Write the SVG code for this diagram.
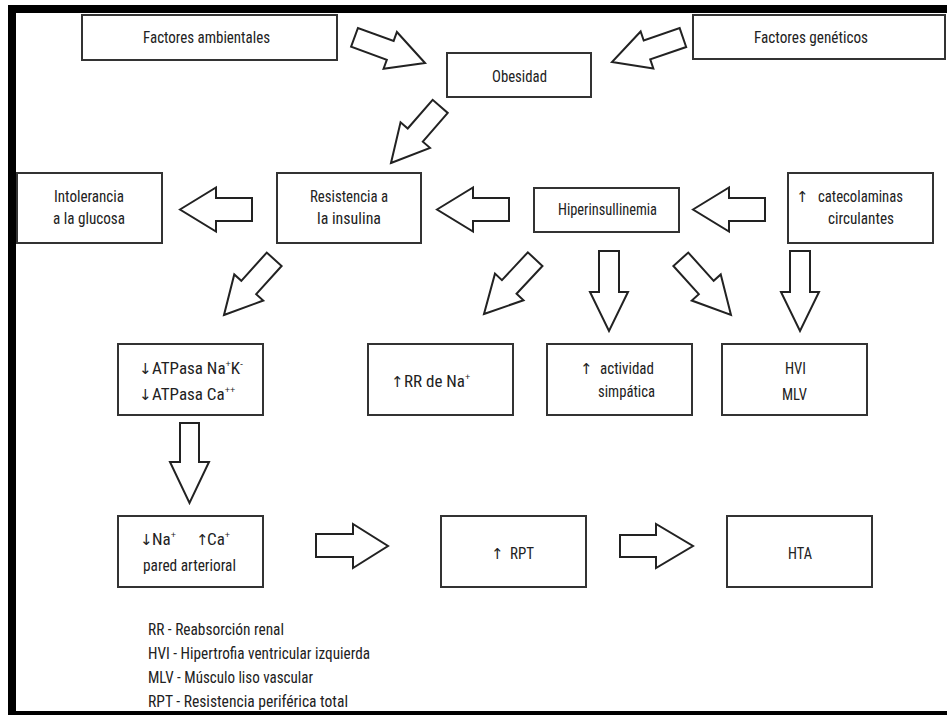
<svg xmlns="http://www.w3.org/2000/svg" width="947" height="715" viewBox="0 0 947 715">
<defs>
<style>
.box{fill:#fff;stroke:#333;stroke-width:2}
.arr{fill:#fff;stroke:#222;stroke-width:2;stroke-linejoin:miter}
.t{font-family:"Liberation Sans Narrow","Roboto Condensed","DejaVu Sans Condensed","Liberation Sans",sans-serif;font-stretch:condensed;font-size:17px;fill:#222}
.s{font-family:"DejaVu Sans","Liberation Sans",sans-serif;font-size:15px;fill:#222}
.sup{font-family:"Liberation Sans",sans-serif;font-size:9px}
</style>
<polygon id="diag" points="0,0 -37,-19.5 -37,-10 -75,-10 -75,10 -37,10 -37,19.5"/>
</defs>
<rect x="0" y="0" width="947" height="715" fill="#fff"/>
<g id="border" fill="#000">
<rect x="8" y="5" width="939" height="8"/>
<rect x="8" y="5" width="8" height="710"/>
<rect x="8" y="711" width="939" height="4"/>
</g>
<g id="connectors">
<use href="#diag" class="arr" transform="translate(425,63) rotate(20)"/>
<use href="#diag" class="arr" transform="translate(612,62) rotate(161)"/>
<use href="#diag" class="arr" transform="translate(391,163) rotate(131)"/>
<use href="#diag" class="arr" transform="translate(224,315) rotate(132)"/>
<use href="#diag" class="arr" transform="translate(484,314) rotate(133)"/>
<use href="#diag" class="arr" transform="translate(731,315) rotate(48)"/>
<polygon class="arr" points="180,209.5 216,187.5 216,198 252,198 252,221 216,221 216,231.5"/>
<polygon class="arr" points="437,209.5 473,187.5 473,198 509,198 509,221 473,221 473,231.5"/>
<polygon class="arr" points="693,209.5 729,187.5 729,198 765,198 765,221 729,221 729,231.5"/>
<polygon class="arr" points="316,534 353,534 353,524 388,546 353,568 353,557 316,557"/>
<polygon class="arr" points="620,535 656,535 656,524 693,546 656,568 656,557 620,557"/>
<polygon class="arr" points="180,423 199,423 199,462 209,462 189.5,503 170,462 180,462"/>
<polygon class="arr" points="599,251 619,251 619,292 628,292 609,331 590,292 599,292"/>
<polygon class="arr" points="790,251 810,251 810,292 819,292 800,331 781,292 790,292"/>
</g>
<g id="n-ambientales"><rect class="box" x="82" y="15" width="255" height="45"/><text class="t" x="143" y="43" textLength="127" lengthAdjust="spacingAndGlyphs">Factores ambientales</text></g>
<g id="n-obesidad"><rect class="box" x="447" y="53" width="144" height="44"/><text class="t" x="492" y="82" textLength="55" lengthAdjust="spacingAndGlyphs">Obesidad</text></g>
<g id="n-geneticos"><rect class="box" x="693" y="15" width="252" height="44"/><text class="t" x="754" y="43" textLength="114" lengthAdjust="spacingAndGlyphs">Factores genéticos</text></g>
<g id="n-intolerancia"><rect class="box" x="17" y="173" width="145" height="70"/><text class="t" x="54" y="202" textLength="70" lengthAdjust="spacingAndGlyphs">Intolerancia</text><text class="t" x="53" y="224" textLength="72" lengthAdjust="spacingAndGlyphs">a la glucosa</text></g>
<g id="n-resistencia"><rect class="box" x="277" y="173" width="144" height="70"/><text class="t" x="310" y="202" textLength="78" lengthAdjust="spacingAndGlyphs">Resistencia a</text><text class="t" x="317" y="224" textLength="64" lengthAdjust="spacingAndGlyphs">la insulina</text></g>
<g id="n-hiper"><rect class="box" x="534" y="188" width="145" height="44"/><text class="t" x="558" y="215" textLength="99" lengthAdjust="spacingAndGlyphs">Hiperinsullinemia</text></g>
<g id="n-catecol"><rect class="box" x="788" y="173" width="145" height="70"/><text class="s" x="796" y="202">↑</text><text class="t" x="818" y="202" textLength="85" lengthAdjust="spacingAndGlyphs">catecolaminas</text><text class="t" x="828" y="224" textLength="66" lengthAdjust="spacingAndGlyphs">circulantes</text></g>
<g id="n-atpasa"><rect class="box" x="118" y="344" width="145" height="71"/>
<text class="s" x="139" y="374">↓</text><text class="t" x="152" y="374">ATPasa Na<tspan class="sup" dy="-7">+</tspan><tspan dy="7">K</tspan><tspan class="sup" dy="-7">-</tspan></text>
<text class="s" x="139" y="400">↓</text><text class="t" x="152" y="400">ATPasa Ca<tspan class="sup" dy="-7">++</tspan></text></g>
<g id="n-rr"><rect class="box" x="368" y="344" width="145" height="71"/><text class="s" x="391" y="387">↑</text><text class="t" x="404" y="387">RR de Na<tspan class="sup" dy="-7">+</tspan></text></g>
<g id="n-actividad"><rect class="box" x="547" y="344" width="145" height="71"/><text class="s" x="580" y="374">↑</text><text class="t" x="600" y="374" textLength="54" lengthAdjust="spacingAndGlyphs">actividad</text><text class="t" x="598" y="397" textLength="57" lengthAdjust="spacingAndGlyphs">simpática</text></g>
<g id="n-hvi"><rect class="box" x="722" y="344" width="145" height="71"/><text class="t" x="785" y="374" textLength="21" lengthAdjust="spacingAndGlyphs">HVI</text><text class="t" x="782" y="400" textLength="25" lengthAdjust="spacingAndGlyphs">MLV</text></g>
<g id="n-naca"><rect class="box" x="118" y="516" width="145" height="71"/>
<text class="s" x="140" y="545">↓</text><text class="t" x="152" y="545">Na<tspan class="sup" dy="-7">+</tspan></text>
<text class="s" x="196" y="545">↑</text><text class="t" x="207" y="545">Ca<tspan class="sup" dy="-7">+</tspan></text>
<text class="t" x="143" y="571" textLength="93" lengthAdjust="spacingAndGlyphs">pared arterioral</text></g>
<g id="n-rpt"><rect class="box" x="441" y="516" width="145" height="71"/><text class="s" x="491" y="559">↑</text><text class="t" x="510" y="559" textLength="24" lengthAdjust="spacingAndGlyphs">RPT</text></g>
<g id="n-hta"><rect class="box" x="727" y="516" width="145" height="71"/><text class="t" x="788" y="559" textLength="24" lengthAdjust="spacingAndGlyphs">HTA</text></g>
<g id="legend">
<text class="t" x="148" y="635" textLength="136" lengthAdjust="spacingAndGlyphs">RR - Reabsorción renal</text>
<text class="t" x="148" y="659" textLength="222" lengthAdjust="spacingAndGlyphs">HVI - Hipertrofia ventricular izquierda</text>
<text class="t" x="148" y="683" textLength="165" lengthAdjust="spacingAndGlyphs">MLV - Músculo liso vascular</text>
<text class="t" x="148" y="707" textLength="200" lengthAdjust="spacingAndGlyphs">RPT - Resistencia periférica total</text>
</g>
</svg>
